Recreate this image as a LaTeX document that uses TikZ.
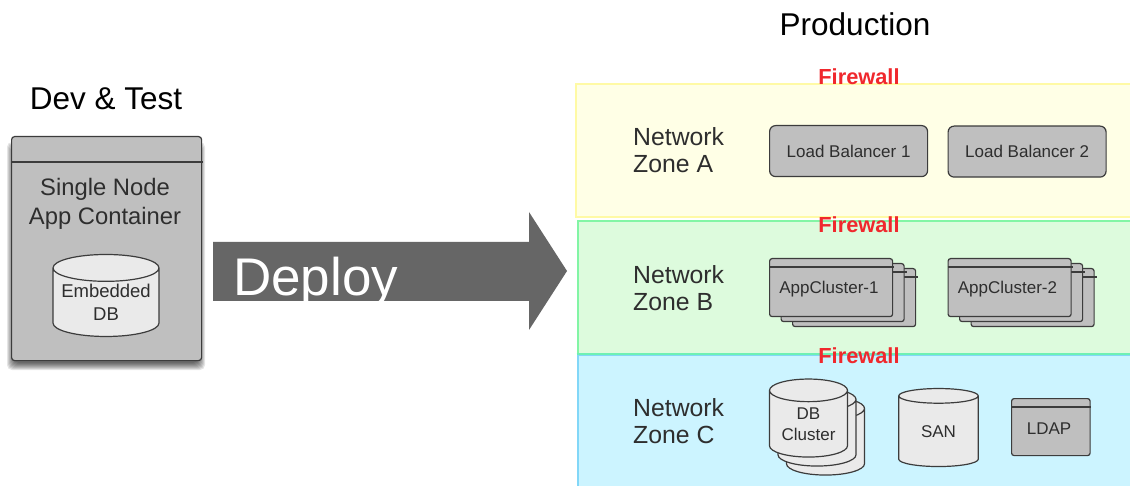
\documentclass[tikz,border=0pt]{standalone}
\usepackage{xcolor}
\usepackage{fontspec}
\setmainfont{Liberation Sans}
\usetikzlibrary{shapes.geometric}
\definecolor{boxgray}{HTML}{BFBFBF}
\definecolor{dbgray}{HTML}{EAEAEA}
\definecolor{edgegray}{HTML}{3C3C3C}
\definecolor{inkgray}{HTML}{2E2E2E}
\begin{document}
\begin{tikzpicture}[
    x=1pt, y=-1pt,
    zone/.style={rectangle, anchor=north west, inner sep=0pt, line width=2pt},
    zonename/.style={anchor=west, align=left, inner sep=0pt, text=inkgray, font=\fontsize{24.8}{27}\selectfont},
    title/.style={inner sep=0pt, font=\fontsize{31.5}{34}\selectfont},
    firewall/.style={inner sep=0pt, text={rgb,255:red,240;green,40;blue,45}, font=\fontsize{21.8}{24}\selectfont\bfseries},
    server/.style={rectangle, draw=edgegray, fill=boxgray, line width=1.2pt, rounded corners=2.5pt, anchor=north west, inner sep=0pt, text=inkgray, font=\fontsize{17}{21}\selectfont},
    boxtext/.style={inner sep=0pt, text=inkgray, font=\fontsize{17}{21}\selectfont},
    balancer/.style={server, rounded corners=6pt, minimum width=158pt, minimum height=51pt},
    appcard/.style={server, minimum width=123pt, minimum height=58pt},
    headline/.style={draw=edgegray, line width=1.2pt},
    dbcyl/.style={cylinder, shape border rotate=90, aspect=0.42, draw=edgegray, fill=dbgray, line width=1.2pt, inner sep=0pt, text=inkgray, align=center, font=\fontsize{17}{21}\selectfont, minimum width=78pt, minimum height=78pt}
]
    \useasboundingbox (0,0) rectangle (1130,486);
    \fill[white] (0,0) rectangle (1130,486);

    % zones
    \node[zone, draw={rgb,255:red,255;green,250;blue,165}, fill={rgb,255:red,255;green,255;blue,230}, minimum width=560pt, minimum height=133pt] (zonea) at (575,83) {};
    \node[zone, draw={rgb,255:red,130;green,245;blue,165}, fill={rgb,255:red,221;green,251;blue,221}, minimum width=560pt, minimum height=133pt] (zoneb) at (576.5,220) {};
    \node[zone, draw={rgb,255:red,130;green,215;blue,248}, fill={rgb,255:red,204;green,244;blue,255}, minimum width=560pt, minimum height=140pt] (zonec) at (576.5,354) {};
    \draw[line width=2.5pt, draw={rgb,255:red,110;green,240;blue,180}] (zonec.north west) -- (zonec.north east);

    \node[title] (devtitle) at (106,99) {Dev \& Test};
    \node[title] (prodtitle) at (855,24) {Production};

    \node[firewall] (wallone) at (859,77) {Firewall};
    \node[firewall] (walltwo) at (859,225) {Firewall};
    \node[firewall] (wallthree) at (859,356) {Firewall};

    \node[zonename] (namea) at (633,150.5) {Network\\Zone A};
    \node[zonename] (nameb) at (633,288.5) {Network\\Zone B};
    \node[zonename] (namec) at (633,421.5) {Network\\Zone C};

    % left container
    \foreach \e in {4,3,...,-3}
        \fill[black, opacity=.1, rounded corners=5pt] (11-\e,146-\e) rectangle (201+\e,366+\e);
    \node[server, rounded corners=3pt, minimum width=190pt, minimum height=224pt] (container) at (11,136) {};
    \draw[headline] (container.north west |- 0,162) -- (203,162);
    \node[inner sep=0pt, align=center, text=inkgray, font=\fontsize{23.8}{29}\selectfont] (containername) at (105,203.5) {Single Node\\App Container};
    \node[dbcyl, aspect=0.3, minimum width=106pt, minimum height=82pt, font=\fontsize{18.5}{23}\selectfont] (embedded) at (106,302.5) {Embedded\\DB};

    % deploy arrow
    \fill[black!60] (213,242) -- (529,242) -- (529,212) -- (567,271) -- (529,330) -- (529,301) -- (213,301) -- cycle;
    \node[anchor=base west, inner sep=0pt, text=white, font=\fontsize{53}{60}\selectfont] (deploy) at (233,296) {Deploy};

    % zone A
    \node[balancer] (lbone) at (769,125) {Load Balancer 1\hspace{3pt}};
    \node[balancer] (lbtwo) at (947.5,125.5) {Load Balancer 2\hspace{3pt}};

    % zone B
    \foreach \nm/\x/\txt in {appone/769/AppCluster-1, apptwo/947.5/AppCluster-2} {
        \node[appcard] (\nm back) at (\x+23,268) {};
        \draw[headline] (\nm back.north west |- 0,277) -- ([xshift=2pt]\nm back.east |- 0,277);
        \node[appcard] (\nm mid) at (\x+11.5,263) {};
        \draw[headline] (\nm mid.north west |- 0,272) -- ([xshift=2pt]\nm mid.east |- 0,272);
        \node[appcard] (\nm) at (\x,258) {};
        \draw[headline] (\nm.north west |- 0,267) -- ([xshift=1pt]\nm.east |- 0,267);
        \node[boxtext] (\nm text) at (\x+60,289) {\txt};
    }

    % zone C
    \node[dbcyl] (dbback) at (825.5,442) {\phantom{DB}\\\phantom{Cluster}};
    \node[dbcyl] (dbmid) at (817,433) {\phantom{DB}\\\phantom{Cluster}};
    \node[dbcyl] (dbfront) at (808.5,424) {DB\\Cluster};
    \node[dbcyl, minimum width=79.5pt] (san) at (938.5,431.5) {SAN};
    \node[server, minimum width=78.5pt, minimum height=57pt] (ldap) at (1011,398) {};
    \draw[headline] (ldap.north west |- 0,407) -- (ldap.north east |- 0,407);
    \node[boxtext] (ldaptext) at (1049,429) {LDAP};
\end{tikzpicture}
\end{document}
